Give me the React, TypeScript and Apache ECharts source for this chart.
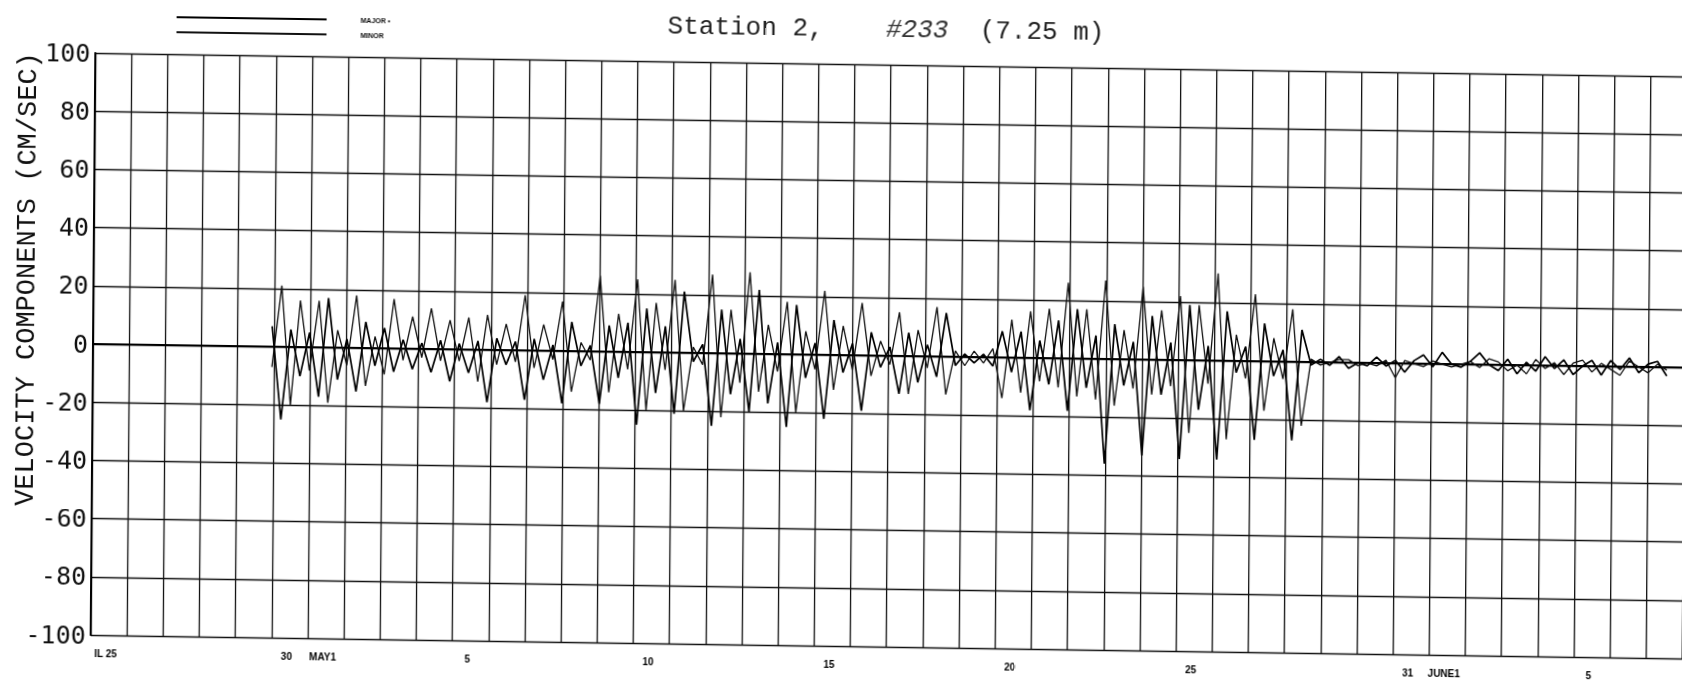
import React, { useEffect, useRef } from 'react';
import * as echarts from 'echarts';

// time of first sample (days after April 25) and sample step (half tidal cycle, days)
const T0 = 4.95;
const STEP = 0.2588;

const MAJOR = [
  7, -25, 6, -10, 5, -17, 17, -11, 3, -15,
  9, -6, 7, -8, 3, -7, 2, -8, 3, -11,
  2, -8, 3, -18, 4, -5, 3, -17, 4, -10,
  2, -18, 10, -5, 2, -18, 9, -9, 10, -25,
  15, -14, 9, -21, 21, -3, 3, -25, 15, -14,
  5, -20, 22, -17, 4, -25, 17, -8, 4, -22,
  12, -6, 4, -19, 8, -4, 3, -13, 8, -9,
  4, -7, 15, -3, 1, -2, 1, -3, 9, -5,
  9, -18, 6, -9, 13, -18, 17, -10, 8, -36,
  12, -9, 6, -33, 15, -12, 6, -34, 19, -17,
  5, -34, 17, -4, 5, -27, 13, -5, 4, -27,
  11, -1, 1, -1, 2, -2, 0, -1, 2, -1,
  1, -3, 1, 3, -1, 4, 0, -1, 1, 4,
  0, -2, 2, -3, 1, -2, 3, -1, 2, -3,
  0, 2, -3, 2, -1, 3, -2, 1, 2, -3,
];

const MINOR = [
  -7, 21, -20, 16, -8, 16, -19, 6, -6, 18,
  -13, 4, -9, 17, -4, 11, -3, 14, -4, 10,
  -4, 11, -11, 12, -5, 9, -4, 19, -6, 9,
  -3, 17, -14, 3, -3, 26, -14, 13, -6, 25,
  -20, 17, -6, 25, -20, 2, -4, 27, -22, 15,
  -10, 28, -13, 10, -6, 18, -20, 8, -5, 22,
  -12, 10, -5, 18, -7, 5, -3, 15, -13, 9,
  -4, 17, -13, 2, -3, 2, -2, 3, -14, 13,
  -12, 16, -8, 17, -10, 26, -13, 17, -14, 27,
  -16, 10, -10, 25, -12, 17, -9, 22, -25, 19,
  -8, 30, -27, 9, -6, 23, -17, 8, -6, 18,
  -22, 1, -1, 0, 1, 1, -1, 0, -1, 1,
  -5, 1, 0, -1, 1, 0, -1, 0, 1, -1,
  2, 1, -2, 0, -3, 2, -1, 1, -3, 1,
  2, -2, 1, -1, -3, 2, 0, -2, 1, -1,
];

const LABEL_DAYS = [0, 5, 6, 10, 15, 20, 25, 30, 36, 37, 41];
const LABEL_TEXT = ['IL 25', '30', 'MAY1', '5', '10', '15', '20', '25', '31', 'JUNE1', '5'];

const X_MAX = 44.5;
const Y_MIN = -100;
const Y_MAX = 100;
const Y_STEP = 20;

const TITLE = 'Station 2,    {h|#233}  (7.25 m)';
const Y_NAME = 'VELOCITY COMPONENTS (CM/SEC)';

export default function App() {
  const ref = useRef<HTMLDivElement>(null);

  useEffect(() => {
    if (!ref.current) return;
    const chart = echarts.init(ref.current, null, { renderer: 'svg' });
    const toPts = (arr: number[]) => arr.map((v, i) => [T0 + i * STEP, v]);
    const DAY_PX = 36.17;

    chart.setOption({
      animation: false,
      backgroundColor: '#ffffff',
      title: {
        text: TITLE,
        left: 660,
        top: 0,
        textStyle: {
          fontFamily: 'Liberation Mono',
          fontSize: 26,
          fontWeight: 'normal',
          color: '#222',
          rich: {
            h: { fontFamily: 'Liberation Mono', fontSize: 26, fontStyle: 'italic', color: '#333' },
          },
        },
      },
      legend: {
        left: 168,
        top: 7,
        orient: 'vertical',
        itemWidth: 150,
        itemHeight: 10,
        itemGap: 7,
        data: ['MAJOR', 'MINOR'],
        itemStyle: { opacity: 0 },
        formatter: (n: string) => (n === 'MAJOR' ? 'MAJOR \u2022' : n),
        textStyle: {
          fontFamily: 'Liberation Sans',
          fontSize: 7,
          fontWeight: 'bold',
          color: '#111',
          padding: [0, 0, 0, 29],
        },
      },
      grid: { left: 93, top: 53, width: X_MAX * DAY_PX, height: 582 },
      xAxis: {
        type: 'value',
        min: 0,
        max: X_MAX,
        interval: 1,
        axisLine: { show: true, lineStyle: { color: '#000', width: 2 } },
        axisTick: { show: false },
        splitLine: { show: true, lineStyle: { color: '#111', width: 1.3 } },
        axisLabel: {
          showMaxLabel: false,
          margin: 13,
          fontSize: 10,
          fontWeight: 'bold',
          fontFamily: 'Liberation Sans',
          color: '#000',
          padding: [0, 0, 0, 30],
          formatter: (v: number) => {
            const r = Math.round(v);
            if (Math.abs(v - r) > 1e-6) return '';
            const idx = LABEL_DAYS.indexOf(r);
            return idx >= 0 ? LABEL_TEXT[idx] : '';
          },
        },
      },
      yAxis: {
        type: 'value',
        min: Y_MIN,
        max: Y_MAX,
        interval: Y_STEP,
        axisLine: { show: true, lineStyle: { color: '#000', width: 2 } },
        axisTick: { show: false },
        splitLine: { show: true, lineStyle: { color: '#111', width: 1.4 } },
        axisLabel: {
          margin: 5,
          fontSize: 25,
          fontFamily: 'DejaVu Sans Mono',
          color: '#111',
        },
      },
      graphic: [
        {
          type: 'text',
          x: 27,
          y: 280,
          rotation: Math.PI / 2,
          style: {
            text: Y_NAME,
            font: '27px "Liberation Mono"',
            fill: '#111',
            align: 'center',
            verticalAlign: 'middle',
            textAlign: 'center',
            textVerticalAlign: 'middle',
          },
        },
      ],
      series: [
        {
          name: 'MAJOR',
          type: 'line',
          data: toPts(MAJOR),
          symbol: 'none',
          smooth: false,
          lineStyle: { color: '#000', width: 1.7 },
          itemStyle: { color: '#000' },
          z: 3,
        },
        {
          name: 'MINOR',
          type: 'line',
          data: toPts(MINOR),
          symbol: 'none',
          smooth: false,
          lineStyle: { color: '#111', width: 1.3 },
          itemStyle: { color: '#111' },
          z: 2,
        },
      ],
    });

    return () => chart.dispose();
  }, []);

  return (
    <div
      ref={ref}
      style={{
        position: 'fixed',
        left: 0,
        top: 0,
        width: 1720,
        height: 683,
        background: '#fff',
        transform: 'matrix(1, 0.0148, -0.008, 1, 0, 0)',
        transformOrigin: '93px 344px',
      }}
    />
  );
}
